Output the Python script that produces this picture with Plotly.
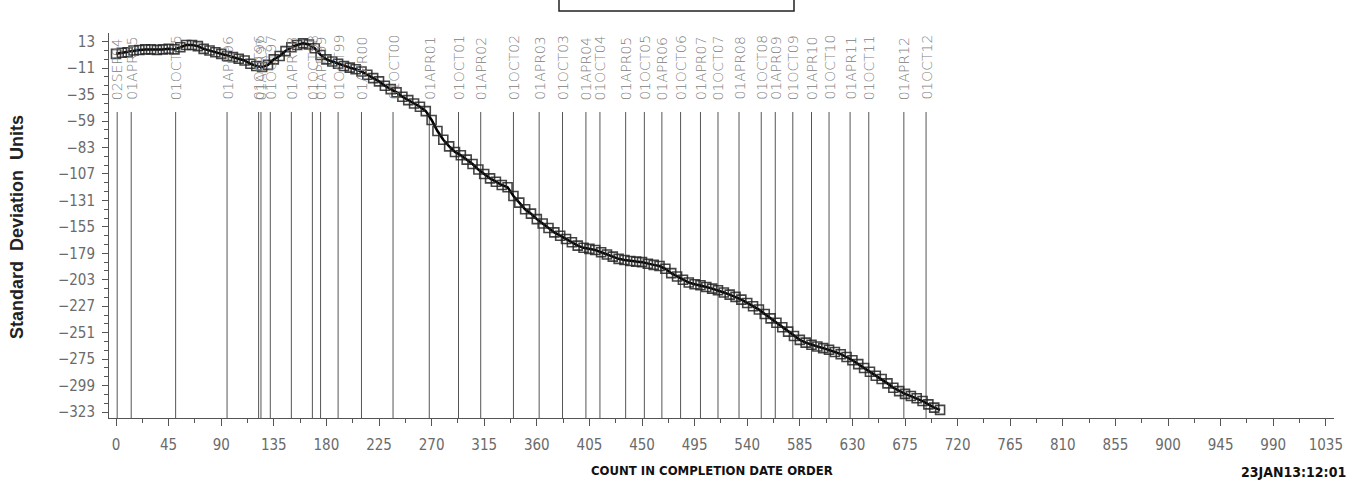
import plotly.graph_objects as go

# Cumulative standardized deviation by job count (completion-date order)
counts = list(range(0, 710, 5))
std_units = [
    2, 3, 3.5, 5, 5.5, 6, 6, 5.5, 6, 6.5,
    6, 8, 10, 10, 9, 6.5, 5, 3.5, 2, 0,
    -1, -2.5, -4, -7, -9, -10, -8, -3, 0, 4.5,
    8, 10, 11.5, 10.5, 7, 1, -3, -5, -7, -9,
    -10.5, -12, -14, -17, -20, -23, -27, -30, -33, -37,
    -40, -43, -46, -50, -58, -68, -76, -82, -87, -90,
    -94, -98, -103, -107, -111, -114, -117, -119, -127, -133,
    -139, -143, -148, -152, -156, -160, -163, -166, -169, -172,
    -174, -175, -176, -178, -180, -182, -184, -185, -186, -186.5,
    -187, -188.5, -189.5, -190.5, -193, -197, -200, -203, -205.5, -207,
    -208, -209.5, -211, -212.5, -214.5, -216.5, -218.5, -221, -224, -227,
    -230, -234, -238, -242, -246, -250, -254, -257.5, -260, -262,
    -263.5, -265, -266.5, -268.5, -270.5, -273, -276, -279.5, -283, -286.5,
    -290, -293, -297, -301, -304, -306.5, -308.5, -310.5, -313, -316,
    -319, -321,
]

# Reference dates and the count at which each falls
ref_dates = [
    "02SEP94", "01APR95", "01OCT95", "01APR96", "01OCT96", "01APR97", "01OCT97",
    "01APR98", "01OCT98", "01APR99", "01OCT99", "01APR00", "01OCT00", "01APR01",
    "01OCT01", "01APR02", "01OCT02", "01APR03", "01OCT03", "01APR04", "01OCT04",
    "01APR05", "01OCT05", "01APR06", "01OCT06", "01APR07", "01OCT07", "01APR08",
    "01OCT08", "01APR09", "01OCT09", "01APR10", "01OCT10", "01APR11", "01OCT11",
    "01APR12", "01OCT12",
]
ref_counts = [
    1, 13, 51, 95, 122, 124, 132,
    150, 168, 175, 190, 210, 237, 268,
    293, 312, 340, 362, 382, 402, 414,
    436, 452, 467, 483, 500, 515, 533,
    552, 564, 579, 595, 610, 628, 644,
    674, 693,
]

x_ticks = list(range(0, 1036, 45))
y_ticks = list(range(13, -324, -24))

W, H = 1358, 487
L, R, T, B = 109, 24, 33, 69
PW, PH = W - L - R, H - T - B
X_RANGE = [-6, 1042]
Y_RANGE = [-328.4, 20.9]


def px_x(px):
    return (px - L) / PW


def px_y(py):
    return (H - B - py) / PH


def y_at(py):
    # data value on the y scale at a given vertical pixel
    return Y_RANGE[1] - (py - T) / PH * (Y_RANGE[1] - Y_RANGE[0])


narrow = "Liberation Sans Narrow, DejaVu Sans Condensed, sans-serif"
tick_font = dict(family=narrow, size=15, color="#6a6a6a")
axis_color = "#555555"

fig = go.Figure()
fig.add_trace(go.Scatter(
    x=counts, y=std_units, mode="lines+markers",
    line=dict(color="#000000", width=2.5),
    marker=dict(symbol="square-open", size=9, color="rgba(35,35,35,0.85)",
                line=dict(width=1.6)),
    showlegend=False, hoverinfo="skip",
))

shapes = []
annotations = []
line_top = y_at(112)
label_base = y_at(101)
for name, c in zip(ref_dates, ref_counts):
    shapes.append(dict(type="line", xref="x", yref="y", x0=c, x1=c,
                       y0=Y_RANGE[0], y1=line_top, layer="below",
                       line=dict(color="#555555", width=1)))
    annotations.append(dict(x=c, y=label_base, xref="x", yref="y", text=name,
                            showarrow=False, textangle=-90,
                            xanchor="center", yanchor="bottom", borderpad=0,
                            font=dict(family="DejaVu Sans", size=14,
                                      color="#808080", weight=200)))

# Frame at the top of the page
shapes.append(dict(type="rect", xref="paper", yref="paper",
                   x0=px_x(559), x1=px_x(794), y0=px_y(11), y1=px_y(-5),
                   line=dict(color="#222222", width=1.5)))

annotations.append(dict(x=px_x(17), y=px_y(227), xref="paper", yref="paper",
                        text="Standard  Deviation  Units", textangle=-90,
                        showarrow=False, xanchor="center", yanchor="middle",
                        font=dict(family="Liberation Sans, Arial, sans-serif",
                                  size=18, color="#222222", weight="bold")))
annotations.append(dict(x=px_x(712), y=px_y(470), xref="paper", yref="paper",
                        text="COUNT IN COMPLETION DATE ORDER", showarrow=False,
                        xanchor="center", yanchor="middle",
                        font=dict(family=narrow, size=13, color="#111111",
                                  weight="bold")))
annotations.append(dict(x=px_x(1348), y=px_y(472), xref="paper", yref="paper",
                        text="23JAN13:12:01", showarrow=False,
                        xanchor="right", yanchor="middle",
                        font=dict(family=narrow, size=14, color="#111111",
                                  weight="bold")))

fig.update_layout(
    width=W, height=H,
    margin=dict(l=L, r=R, t=T, b=B, pad=0),
    paper_bgcolor="white", plot_bgcolor="white",
    shapes=shapes, annotations=annotations,
    xaxis=dict(range=X_RANGE, tickvals=x_ticks, ticktext=[str(v) for v in x_ticks],
               showgrid=False, zeroline=False, showline=True, linecolor=axis_color,
               linewidth=1, ticks="outside", ticklen=7, tickcolor=axis_color,
               tickfont=tick_font, ticklabelstandoff=6,
               minor=dict(dtick=22.5, tick0=0, ticks="outside", ticklen=4,
                          tickcolor=axis_color, showgrid=False)),
    yaxis=dict(range=Y_RANGE, tickvals=y_ticks,
               ticktext=[str(v).replace("-", "\u2212") for v in y_ticks],
               showgrid=False, zeroline=False, showline=True, linecolor=axis_color,
               linewidth=1, ticks="outside", ticklen=6, tickcolor=axis_color,
               tickfont=tick_font, ticklabelstandoff=4,
               minor=dict(dtick=8, tick0=13, ticks="outside", ticklen=4,
                          tickcolor=axis_color, showgrid=False)),
)

fig.write_html("out.html")
